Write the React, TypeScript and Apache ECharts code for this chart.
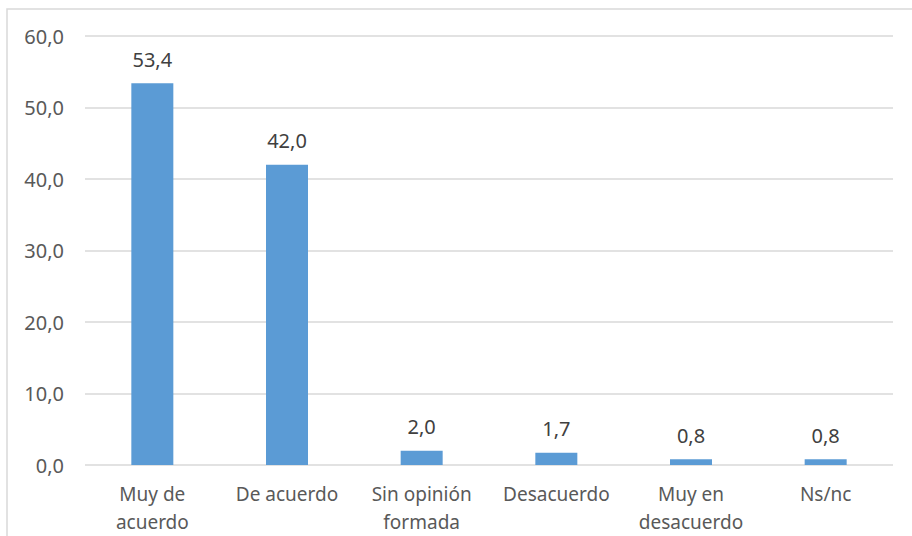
import React, { useEffect, useRef } from "react";
import * as echarts from "echarts";

const categories = ["Muy de\nacuerdo", "De acuerdo", "Sin opinión\nformada", "Desacuerdo", "Muy en\ndesacuerdo", "Ns/nc"];
const values = [53.4, 42.0, 2.0, 1.7, 0.8, 0.8];

const fmt = (v: number) => v.toFixed(1).replace(".", ",");

export default function App() {
  const ref = useRef<HTMLDivElement>(null);
  useEffect(() => {
    document.body.style.margin = "0";
    const chart = echarts.init(ref.current!, undefined, { renderer: "svg" });
    chart.setOption({
      animation: false,
      backgroundColor: "#ffffff",
      textStyle: { fontFamily: "Noto Sans" },
      graphic: [
        {
          type: "rect",
          shape: { x: 7, y: 9, width: 930, height: 560 },
          style: { fill: "none", stroke: "#D9D9D9", lineWidth: 1.5 },
          silent: true,
        },
      ],
      grid: { left: 85, right: 19, top: 36, bottom: 65, containLabel: false },
      xAxis: {
        type: "category",
        data: categories,
        axisLine: { show: false },
        axisTick: { show: false },
        axisLabel: { color: "#595959", fontSize: 19, margin: 15, lineHeight: 28, interval: 0 },
      },
      yAxis: {
        type: "value",
        min: 0,
        max: 60,
        interval: 10,
        axisLine: { show: false },
        axisTick: { show: false },
        axisLabel: { color: "#595959", fontSize: 20, margin: 21, formatter: (v: number) => fmt(v) },
        splitLine: { lineStyle: { color: "#D9D9D9", width: 1.5 } },
      },
      series: [
        {
          type: "bar",
          data: values,
          barWidth: 42,
          itemStyle: { color: "#5B9BD5" },
          label: {
            show: true,
            position: "top",
            distance: 14,
            color: "#404040",
            fontSize: 20,
            formatter: (p: any) => fmt(p.value),
          },
        },
      ],
    });
    return () => chart.dispose();
  }, []);
  return <div ref={ref} style={{ width: 912, height: 536 }} />;
}
